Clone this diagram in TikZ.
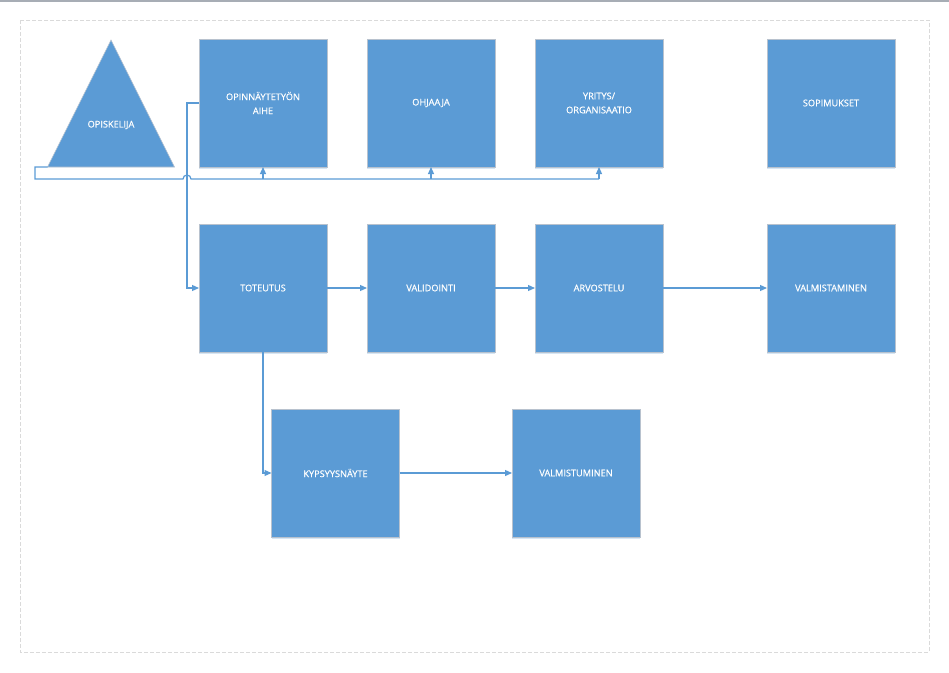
\documentclass[tikz,border=0pt]{standalone}
\usepackage{fontspec}
\setmainfont{Open Sans}
\newfontfamily\boxfont[FakeBold=0.6]{Open Sans}
\usetikzlibrary{positioning, shapes.geometric, arrows.meta, shadows}
\definecolor{boxblue}{HTML}{5B9BD5}
\definecolor{boxedge}{HTML}{B8C2CE}
\definecolor{pageedge}{HTML}{DADADA}
\definecolor{topline}{HTML}{A7ADB5}
\begin{document}
\begin{tikzpicture}[
    x=1pt, y=-1pt,
    font=\boxfont\fontsize{9.2}{14}\selectfont,
    box/.style={rectangle, draw=boxedge, line width=0.8pt, fill=boxblue, text=white, minimum size=128pt, text width=115pt, align=center, inner sep=0pt, outer sep=0pt,
        drop shadow={shadow xshift=0pt, shadow yshift=-1.5pt, opacity=0.25, fill=boxblue}},
    tri/.style={isosceles triangle, isosceles triangle stretches, shape border rotate=90, minimum width=127pt, minimum height=127pt, inner sep=0pt, outer sep=0pt, draw=boxedge, line width=0.6pt, fill=boxblue},
    label/.style={text=white, inner sep=0pt},
    conn/.style={draw=boxblue, line width=1.2pt},
    arrow/.style={conn, -{Triangle[length=7pt, width=6pt]}},
]
    \useasboundingbox (0,0) rectangle (949,672);

    % Page frame
    \draw[topline, line width=1.5pt] (0,0.75) -- (949,0.75);
    \draw[pageedge, line width=0.8pt, dash pattern=on 4pt off 2pt] (20,20) rectangle (929,652);

    % Student
    \node[tri, anchor=apex] (opiskelija) at (111,40) {};
    \node[label] (opiskelijatxt) at (111,125) {OPISKELIJA};

    % Top row
    \node[box] (aihe) at (263,103) {OPINNÄYTETYÖN\\AIHE};
    \node[box, right=40pt of aihe] (ohjaaja) {OHJAAJA};
    \node[box, right=40pt of ohjaaja] (yritys) {YRITYS/\\ORGANISAATIO};
    \node[box, right=104pt of yritys] (sopimukset) {SOPIMUKSET};

    % Middle row
    \node[box, below=57pt of aihe] (toteutus) {TOTEUTUS};
    \node[box, right=40pt of toteutus] (validointi) {VALIDOINTI};
    \node[box, right=40pt of validointi] (arvostelu) {ARVOSTELU};
    \node[box, right=104pt of arvostelu] (valmistaminen) {VALMISTAMINEN};

    % Bottom row
    \node[box, below=57pt of toteutus, xshift=72.5pt] (kypsyys) {KYPSYYSNÄYTE};
    \node[box, right=112.5pt of kypsyys] (valmistuminen) {VALMISTUMINEN};

    % Bus from the student to the top row
    \coordinate (bus) at (35,179);
    \coordinate (hopL) at (183,179);
    \draw[conn] (opiskelija.left corner) -| (bus) -- (hopL) arc[start angle=180, end angle=0, radius=4pt] -- (bus -| yritys.south);
    \draw[arrow] (bus -| aihe.south) -- (aihe.south);
    \draw[arrow] (bus -| ohjaaja.south) -- (ohjaaja.south);
    \draw[arrow] (bus -| yritys.south) -- (yritys.south);

    % Process flow
    \draw[arrow] (aihe.west) -- ++(-12,0) |- (toteutus.west);
    \draw[arrow] (toteutus) -- (validointi);
    \draw[arrow] (validointi) -- (arvostelu);
    \draw[arrow] (arvostelu) -- (valmistaminen);
    \draw[arrow] (toteutus.south) |- (kypsyys.west);
    \draw[arrow] (kypsyys) -- (valmistuminen);

\end{tikzpicture}
\end{document}
